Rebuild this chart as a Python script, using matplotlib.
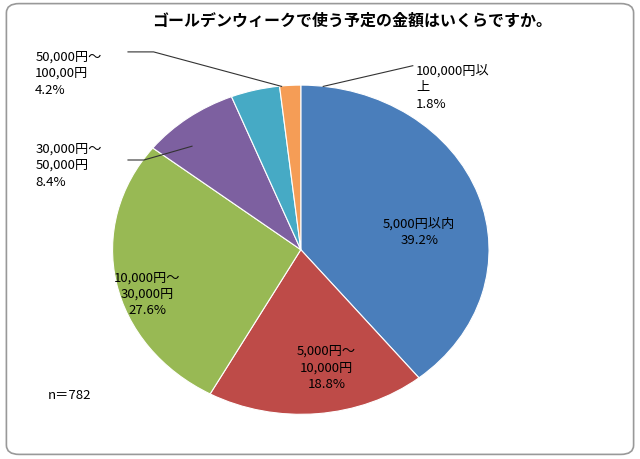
import matplotlib
matplotlib.use("Agg")
import matplotlib.pyplot as plt
from matplotlib.patches import FancyBboxPatch

plt.rcParams["font.family"] = "Noto Sans CJK JP"

labels = ["5,000円以内", "5,000円～\n10,000円", "10,000円～\n30,000円",
          "30,000円～\n50,000円", "50,000円～\n100,00円", "100,000円以\n上"]
values = [39.2, 18.8, 27.6, 8.4, 4.2, 1.8]
colors = ["#4a7ebb", "#be4b48", "#98b954", "#7d60a0", "#46aac5", "#f59d56"]

fig = plt.figure(figsize=(6.4, 4.6), dpi=100)
fig.patches.append(FancyBboxPatch((0.01, 0.01), 0.98, 0.98, boxstyle="round,pad=0,rounding_size=0.02",
                                  transform=fig.transFigure, fill=False, ec="#999999", lw=1.2))
fig.text(0.55, 0.955, "ゴールデンウィークで使う予定の金額はいくらですか。", ha="center", va="center",
         fontsize=11.5, fontweight="bold")

ax = fig.add_axes([0.17, 0.09, 0.6, 0.73])
wedges, _ = ax.pie(values, colors=colors, startangle=90, counterclock=False,
                   wedgeprops=dict(edgecolor="white", linewidth=0.8))
ax.set_aspect("auto")
ax.set_xlim(-1.02, 1.02)
ax.set_ylim(-1.02, 1.02)

fs = 9.5
def txt(x, y, i, ha="center"):
    fig.text(x, y, f"{labels[i]}\n{values[i]}%", ha=ha, va="center", fontsize=fs, linespacing=1.35)

txt(0.655, 0.495, 0)
txt(0.51, 0.20, 1)
txt(0.23, 0.36, 2)
txt(0.055, 0.64, 3, ha="left")
txt(0.055, 0.84, 4, ha="left")
txt(0.65, 0.81, 5, ha="left")

# leader lines
fig.add_artist(plt.Line2D([0.20, 0.24, 0.44], [0.885, 0.885, 0.81], color="#333333", lw=0.8))
fig.add_artist(plt.Line2D([0.20, 0.225, 0.30], [0.65, 0.65, 0.68], color="#333333", lw=0.8))
fig.add_artist(plt.Line2D([0.505, 0.645], [0.81, 0.855], color="#333333", lw=0.8))

fig.text(0.075, 0.14, "n＝782", ha="left", va="center", fontsize=fs)

fig.savefig("out.png", dpi=100)
